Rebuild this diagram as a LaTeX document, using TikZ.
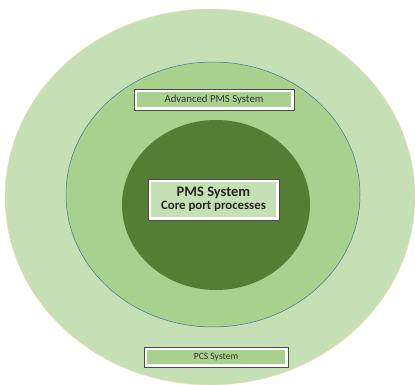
\documentclass[tikz,border=0pt]{standalone}
\usepackage{fontspec}
\setmainfont{Carlito}
\definecolor{outerg}{HTML}{C5E0B4}
\definecolor{midg}{HTML}{A9D18E}
\definecolor{innerg}{HTML}{537E33}
\definecolor{edgeb}{HTML}{41719C}
\definecolor{txt}{HTML}{333333}
\begin{document}
\begin{tikzpicture}[x=1pt,y=-1pt,
  labelbox/.style={draw=black!70, line width=0.6pt, fill=white, inner sep=0pt, text=txt,
    path picture={\fill[#1] ([shift={(3pt,3pt)}]path picture bounding box.south west) rectangle ([shift={(-3pt,-3pt)}]path picture bounding box.north east);}}]
\useasboundingbox (0,0) rectangle (415,385);
\fill[white] (0,0) rectangle (415,385);
\fill[outerg, draw=orange!30, line width=0.4pt] (210,197) ellipse [x radius=205, y radius=188];
\draw[fill=midg, draw=edgeb, line width=0.5pt] (213,194.5) ellipse [x radius=147, y radius=132.5];
\fill[innerg] (216,205) ellipse [x radius=94, y radius=85];
\node[labelbox=midg, minimum width=160pt, minimum height=21pt, font=\fontsize{10.8}{12}\selectfont] (adv) at (214,99.5) {Advanced PMS System};
\node[labelbox=outerg, minimum width=131pt, minimum height=41pt, font=\bfseries, align=center, text=black!85] (pms) at (213.5,199.5) {{\fontsize{14.5}{15}\selectfont PMS System}\\[1pt]{\fontsize{12.8}{14}\selectfont Core port processes}};
\node[labelbox=midg, minimum width=144pt, minimum height=20pt, font=\fontsize{9.6}{11}\selectfont] (pcs) at (216,357) {PCS System};
\end{tikzpicture}
\end{document}
